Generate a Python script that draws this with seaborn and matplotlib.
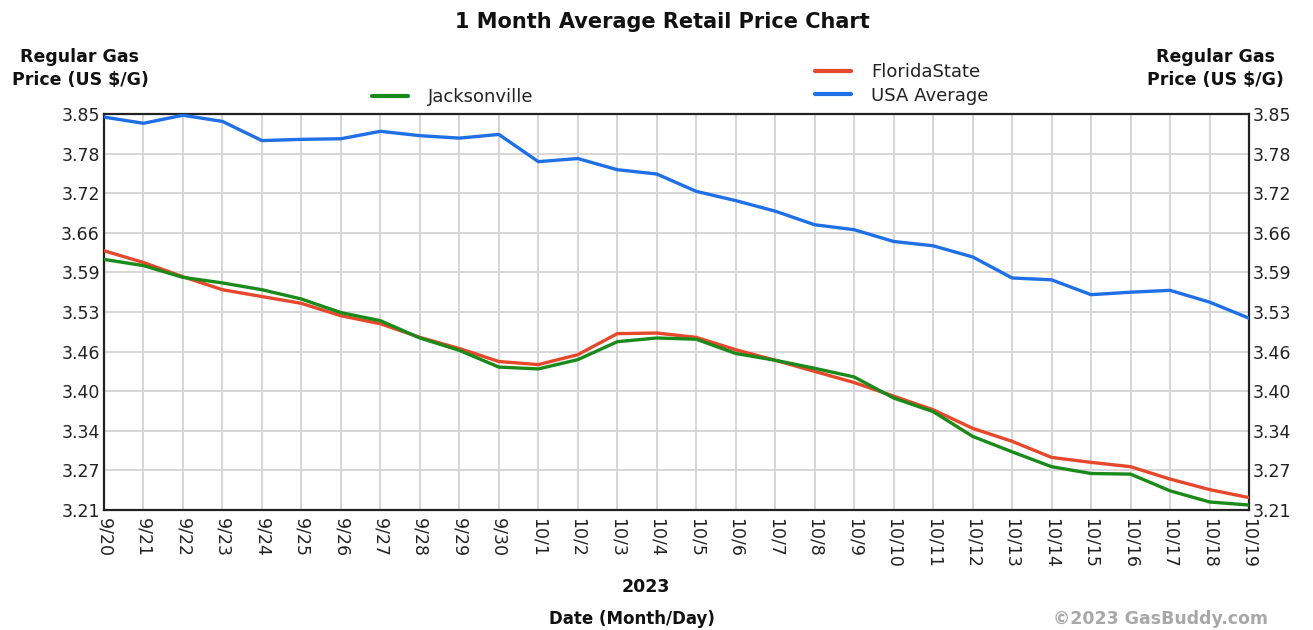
import matplotlib
matplotlib.use("Agg")
import matplotlib.pyplot as plt
import seaborn as sns
import pandas as pd
import numpy as np

dates = ["9/20", "9/21", "9/22", "9/23", "9/24", "9/25", "9/26", "9/27", "9/28", "9/29",
         "9/30", "10/1", "10/2", "10/3", "10/4", "10/5", "10/6", "10/7", "10/8", "10/9",
         "10/10", "10/11", "10/12", "10/13", "10/14", "10/15", "10/16", "10/17", "10/18", "10/19"]

usa_average = [3.845, 3.835, 3.848, 3.838, 3.807, 3.809, 3.810, 3.822, 3.815, 3.811,
               3.817, 3.773, 3.778, 3.760, 3.753, 3.725, 3.710, 3.693, 3.671, 3.663,
               3.644, 3.637, 3.619, 3.585, 3.582, 3.558, 3.562, 3.565, 3.546, 3.520]

florida_state = [3.629, 3.610, 3.587, 3.566, 3.555, 3.544, 3.524, 3.511, 3.489, 3.471,
                 3.450, 3.445, 3.461, 3.495, 3.496, 3.489, 3.469, 3.452, 3.434, 3.416,
                 3.394, 3.372, 3.342, 3.321, 3.295, 3.287, 3.280, 3.260, 3.243, 3.230]

jacksonville = [3.615, 3.605, 3.586, 3.577, 3.566, 3.551, 3.529, 3.516, 3.488, 3.468,
                3.441, 3.438, 3.453, 3.482, 3.488, 3.486, 3.463, 3.452, 3.439, 3.425,
                3.391, 3.369, 3.329, 3.304, 3.280, 3.269, 3.268, 3.241, 3.223, 3.218]

y_tick_labels = ["3.21", "3.27", "3.34", "3.40", "3.46", "3.53", "3.59", "3.66", "3.72", "3.78", "3.85"]
y_min, y_max = 3.21, 3.85

series_names = ["USA Average", "FloridaState", "Jacksonville"]
colors = {"USA Average": "#1f6fe6", "FloridaState": "#e5482a", "Jacksonville": "#1a8a1a"}

idx = list(range(len(dates)))
df = pd.concat([
    pd.DataFrame({"idx": idx, "price": usa_average, "series": "USA Average"}),
    pd.DataFrame({"idx": idx, "price": florida_state, "series": "FloridaState"}),
    pd.DataFrame({"idx": idx, "price": jacksonville, "series": "Jacksonville"}),
])

sns.set_style("white")
plt.rcParams["font.family"] = ["DejaVu Sans"]

W, H = 1313, 630
fig = plt.figure(figsize=(W / 100, H / 100), dpi=100)
ax = fig.add_axes([104 / W, 1 - 510 / H, (1249 - 104) / W, (510 - 114) / H])

sns.lineplot(data=df, x="idx", y="price", hue="series", hue_order=series_names,
             palette=colors, linewidth=2.4, legend=False, ax=ax, zorder=3)

ax.set_xlim(0, len(dates) - 1)
ax.set_ylim(y_min, y_max)
ax.set_xticks(idx)
ax.set_xticklabels(dates, rotation=270, fontsize=12.5, ha="center", va="top")
yt = np.linspace(y_min, y_max, len(y_tick_labels))
ax.set_yticks(yt)
ax.set_yticklabels(y_tick_labels, fontsize=12.5)
ax.tick_params(axis="y", length=0, pad=3, right=False, labelright=True, labelcolor="#222222")
ax.tick_params(axis="x", length=0, pad=6, labelcolor="#222222")
ax.grid(True, color="#d6d6d6", linewidth=1.4, zorder=0)
ax.set_axisbelow(True)
ax.set_xlabel("")
ax.set_ylabel("")
for s in ax.spines.values():
    s.set_color("#222222")
    s.set_linewidth(1.6)
    s.set_visible(True)

# Title and labels
fig.text(662 / W, 1 - 22 / H, "1 Month Average Retail Price Chart", ha="center", va="center",
         fontsize=15, fontweight="bold", color="#111111")
for xc in (80, 1215):
    fig.text(xc / W, 1 - 57 / H, "Regular Gas", ha="center", va="center",
             fontsize=12.5, fontweight="bold", color="#111111")
    fig.text(xc / W, 1 - 80 / H, "Price (US $/G)", ha="center", va="center",
             fontsize=12.5, fontweight="bold", color="#111111")
fig.text(646 / W, 1 - 587 / H, "2023", ha="center", va="center",
         fontsize=12.5, fontweight="bold", color="#111111")
fig.text(632 / W, 1 - 619 / H, "Date (Month/Day)", ha="center", va="center",
         fontsize=12, fontweight="bold", color="#111111")
fig.text(1268 / W, 1 - 619 / H, "\u00a92023 GasBuddy.com", ha="right", va="center",
         fontsize=12.5, fontweight="bold", color="#a8a8a8")

# Legends
lines = {l.get_label(): l for l in ax.get_lines()}
from matplotlib.lines import Line2D
h_j = Line2D([], [], color=colors["Jacksonville"], linewidth=3)
h_f = Line2D([], [], color=colors["FloridaState"], linewidth=3)
h_u = Line2D([], [], color=colors["USA Average"], linewidth=3)
leg1 = fig.legend(handles=[h_j], labels=["Jacksonville"], loc="center left",
                  bbox_to_anchor=(372 / W, 1 - 97 / H), frameon=False, fontsize=13,
                  handlelength=2.0, handletextpad=1.1, borderpad=0, borderaxespad=0)
leg2 = fig.legend(handles=[h_f, h_u], labels=["FloridaState", "USA Average"], loc="center left",
                  bbox_to_anchor=(815 / W, 1 - 84 / H), frameon=False, fontsize=13,
                  handlelength=2.0, handletextpad=1.1, borderpad=0, borderaxespad=0,
                  labelspacing=0.3)
for leg in (leg1, leg2):
    for t in leg.get_texts():
        t.set_color("#222222")

fig.savefig("out.png", dpi=100)
